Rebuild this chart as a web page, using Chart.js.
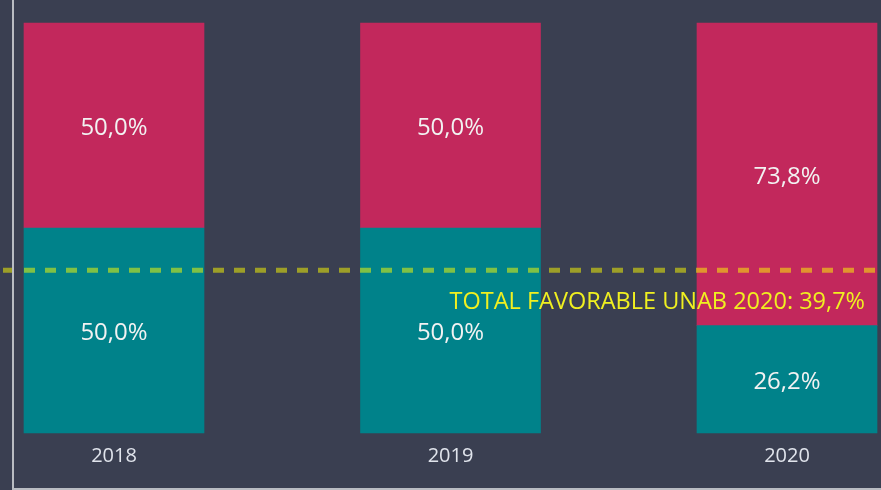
<!DOCTYPE html>
<html>
<head>
<meta charset="utf-8">
<script src="https://cdn.jsdelivr.net/npm/chart.js@4"></script>
<style>
    html, body { margin: 0; padding: 0; background: #3a3f51; }
    #wrap { position: relative; width: 881px; height: 490px; }
    #frame {
        position: absolute; left: 12px; top: 0; width: 867px; height: 488px;
        border-left: 2px solid #b9bcc2; border-bottom: 2px solid #b9bcc2;
        pointer-events: none;
    }
</style>
</head>
<body>
<div id="wrap">
    <canvas id="chart" width="881" height="490"></canvas>
    <div id="frame"></div>
</div>
<script>
const years = ['2018', '2019', '2020'];
const favorable = [50.0, 50.0, 26.2];
const unfavorable = [50.0, 50.0, 73.8];
const totalFavorable = 39.7;
const totalLabel = 'TOTAL FAVORABLE UNAB 2020: 39,7%';

function fmt(v) {
    return v.toFixed(1).replace('.', ',') + '%';
}

// value labels inside each bar segment
const segmentLabels = {
    id: 'segmentLabels',
    afterDatasetsDraw(chart) {
        const ctx = chart.ctx;
        ctx.save();
        ctx.font = '24px "Open Sans"';
        ctx.fillStyle = '#f2f2f2';
        ctx.textAlign = 'center';
        ctx.textBaseline = 'middle';
        chart.data.datasets.forEach(function(ds, i) {
            chart.getDatasetMeta(i).data.forEach(function(bar, j) {
                const y = (bar.y + bar.base) / 2 + 3;
                ctx.fillText(fmt(ds.data[j]), bar.x, y);
            });
        });
        ctx.restore();
    }
};

// dashed reference line across the whole visual
const refLine = {
    id: 'refLine',
    afterDraw(chart) {
        const ctx = chart.ctx;
        const y = chart.scales.y.getPixelForValue(totalFavorable);
        ctx.save();
        ctx.strokeStyle = 'rgba(255, 255, 0, 0.5)';
        ctx.lineWidth = 5;
        ctx.setLineDash([11, 10]);
        ctx.beginPath();
        ctx.moveTo(3, y);
        ctx.lineTo(chart.width, y);
        ctx.stroke();
        ctx.setLineDash([]);
        ctx.font = '23.5px "Open Sans"';
        ctx.fillStyle = '#f0f020';
        ctx.textAlign = 'right';
        ctx.textBaseline = 'middle';
        ctx.fillText(totalLabel, chart.width - 16, y + 32);
        ctx.restore();
    }
};

const ctx = document.getElementById('chart').getContext('2d');
new Chart(ctx, {
    type: 'bar',
    data: {
        labels: years,
        datasets: [{
            label: 'Favorable',
            data: favorable,
            backgroundColor: '#00828a',
            barThickness: 180,
            clip: false
        }, {
            label: 'Desfavorable',
            data: unfavorable,
            backgroundColor: '#c2285c',
            barThickness: 180,
            clip: false
        }]
    },
    options: {
        responsive: false,
        animation: false,
        layout: {
            padding: { left: 114, right: 94, top: 23, bottom: 0 }
        },
        plugins: {
            legend: { display: false },
            tooltip: { enabled: false }
        },
        scales: {
            x: {
                stacked: true,
                offset: false,
                grid: { display: false },
                border: { display: false },
                ticks: {
                    color: '#e0e4ec',
                    padding: 3,
                    font: { family: 'Open Sans', size: 20 }
                },
                afterFit: function(scale) {
                    scale.height = 57;
                }
            },
            y: {
                stacked: true,
                display: false,
                min: 0,
                max: 100
            }
        }
    },
    plugins: [segmentLabels, refLine]
});
</script>
</body>
</html>
